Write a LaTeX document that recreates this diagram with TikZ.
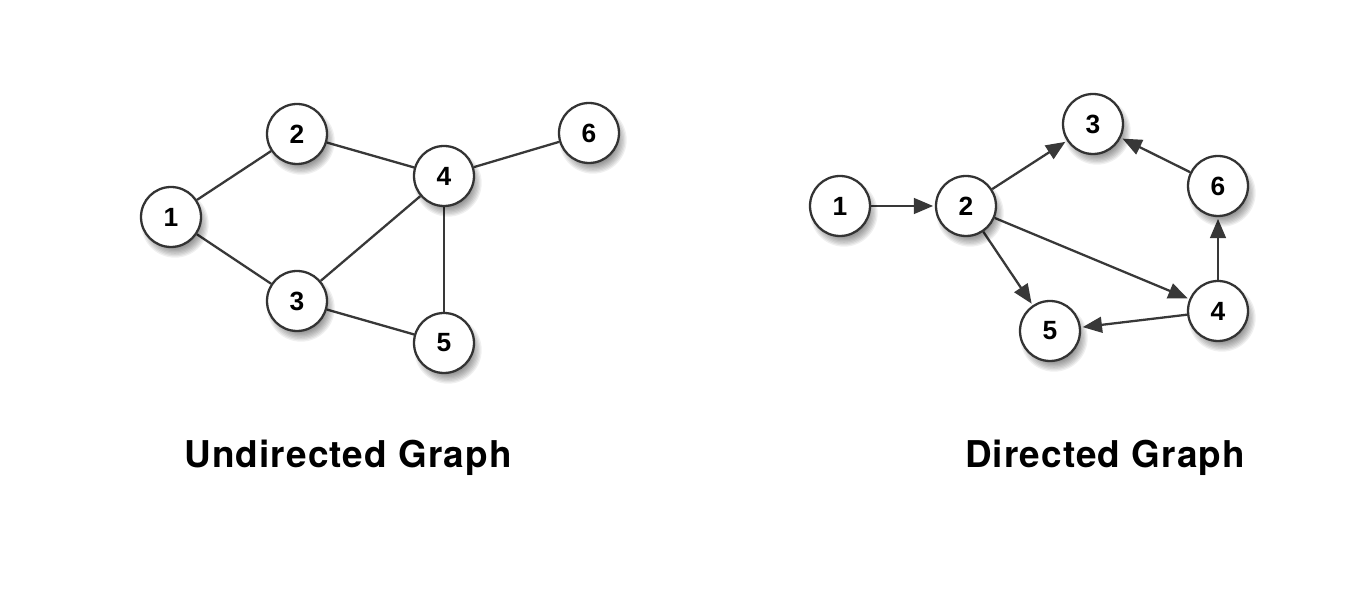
\documentclass[tikz,border=0pt]{standalone}
\usepackage{fontspec}
\setmainfont{Liberation Sans}
\newfontfamily\titlefont[LetterSpace=3]{TeX Gyre Heros}
\usetikzlibrary{arrows.meta,backgrounds}
\begin{document}
\begin{tikzpicture}[x=0.02cm,y=-0.02cm,
  vertex/.style={circle,draw=black!80,line width=1.3pt,fill=white,
    minimum size=1.2cm,inner sep=0pt,font=\bfseries\fontsize{15}{15}\selectfont},
  edge/.style={draw=black!78,line width=1.3pt},
  arc/.style={edge,-{Triangle[length=11pt,width=9pt]},shorten >=1pt},
  caption/.style={font=\titlefont\bfseries\fontsize{21}{21}\selectfont,inner sep=0pt}]
  \useasboundingbox (0,0) rectangle (1356,614);

  % undirected graph
  \node[vertex] (u1) at (171,217) {1};
  \node[vertex] (u2) at (297,134) {2};
  \node[vertex] (u3) at (297,301) {3};
  \node[vertex] (u4) at (444,176) {4};
  \node[vertex] (u5) at (444,343) {5};
  \node[vertex] (u6) at (589,133) {6};

  % directed graph
  \node[vertex] (d1) at (840,206) {1};
  \node[vertex] (d2) at (966,206) {2};
  \node[vertex] (d3) at (1093,124) {3};
  \node[vertex] (d6) at (1218,186) {6};
  \node[vertex] (d4) at (1218,311) {4};
  \node[vertex] (d5) at (1050,331) {5};

  % white page, edges and soft drop shadows behind the vertices
  \begin{scope}[on background layer]
    \fill[white] (0,0) rectangle (1356,614);
    \draw[edge] (u1) -- (u2);
    \draw[edge] (u1) -- (u3);
    \draw[edge] (u2) -- (u4);
    \draw[edge] (u3) -- (u4);
    \draw[edge] (u3) -- (u5);
    \draw[edge] (u4) -- (u5);
    \draw[edge] (u4) -- (u6);
    \draw[arc] (d1) -- (d2);
    \draw[arc] (d2) -- (d3);
    \draw[arc] (d2) -- (d5);
    \draw[arc] (d2) -- (d4);
    \draw[arc] (d4) -- (d5);
    \draw[arc] (d4) -- (d6);
    \draw[arc] (d6) -- (d3);
    \foreach \n in {u1,u2,u3,u4,u5,u6,d1,d2,d3,d4,d5,d6}{
      \foreach \k in {0,...,9}{
        \fill[black,opacity=0.06] ([shift={(4,7)}]\n.center) circle ({22+1.3*\k});
      }
    }
  \end{scope}

  % captions
  \node[caption] (cu) at (348,458) {Undirected Graph};
  \node[caption] (cd) at (1105,458) {Directed Graph};
\end{tikzpicture}
\end{document}
